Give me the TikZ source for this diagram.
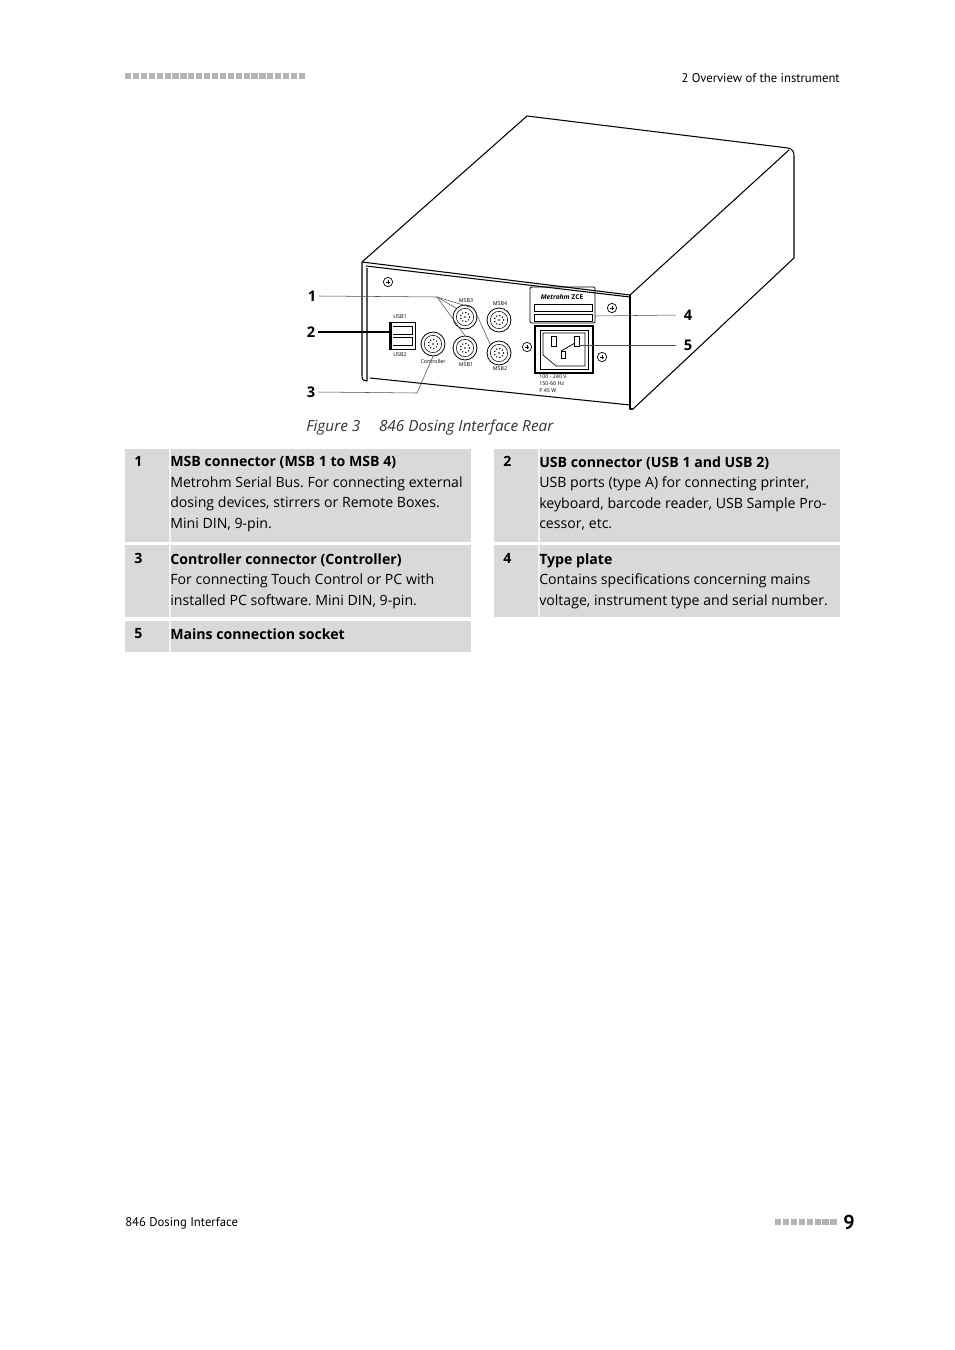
\documentclass[tikz,border=0pt]{standalone}
\usepackage{fontspec}
\setmainfont{Open Sans}
\newfontfamily\hdfont{PT Sans}
\definecolor{cellgray}{HTML}{D9D9D9}
\definecolor{sqgray}{HTML}{B4B4B4}
\begin{document}
\begin{tikzpicture}[x=0.75pt,y=-0.75pt,
  cell/.style={fill=cellgray,draw=none},
  num/.style={anchor=north west,font=\fontsize{10.6}{15.4}\selectfont\bfseries,inner sep=0pt},
  body/.style={anchor=north west,font=\fontsize{10.6}{15.4}\selectfont\frenchspacing,inner sep=0pt,align=left},
  conn/.style={circle,draw,line width=0.6pt,minimum size=18pt,inner sep=0pt,fill=white},
  screw/.style={circle,draw,line width=0.5pt,minimum size=7pt,inner sep=0pt},
  tiny/.style={font=\fontsize{4}{4.6}\selectfont,inner sep=0pt},
  lead/.style={draw,line width=0.4pt,black!70},
  callout/.style={font=\fontsize{11}{12}\selectfont\bfseries,inner sep=0pt}]
\useasboundingbox (0,0) rectangle (954,1350);
% header
\foreach \i in {0,...,22} \fill[sqgray] (125+\i*7.9,73) rectangle ++(6.2,6);
\node[anchor=east,font=\hdfont\fontsize{9.5}{11}\selectfont,inner sep=0pt] (hdr) at (840,78) {2 Overview of the instrument};
% footer
\foreach \i in {0,...,7} \fill[sqgray] (775+\i*7.9,1219) rectangle ++(6.2,6);
\node[anchor=west,font=\hdfont\fontsize{9.5}{11}\selectfont,inner sep=0pt] (ftr) at (125,1223) {846 Dosing Interface};
\node[anchor=west,font=\hdfont\fontsize{15}{16}\selectfont\bfseries,inner sep=0pt] (pg) at (843,1222) {9};
% ===== instrument =====
\begin{scope}[line width=0.8pt,line join=round]
\draw (362,262) -- (527,116) -- (788,148) .. controls (793,149) and (794,152) .. (794,156) -- (794,258) -- (633,409);
\draw (362,262) -- (630,295) -- (789,150);
\draw (362,262) -- (362,376) .. controls (362,380) and (364,381) .. (367,381) -- (367,268);
\draw (630,295) -- (630,409) -- (633,409);
\draw (370,378) -- (630,405);
\draw (366,266) -- (630,297);
\end{scope}
% screws
\foreach \n/\x/\y in {s1/388/282,s2/612/308,s3/527/347,s4/602/357}{
  \node[screw] (\n) at (\x,\y) {};
  \draw[line width=0.4pt] (\x-2,\y) -- (\x+2,\y) (\x,\y-2) -- (\x,\y+2);}
% USB
\draw[line width=0.7pt] (389,322) rectangle (415,349);
\fill (389,322) rectangle (392,349);
\draw[line width=0.5pt] (393,326) -- (412,326) -- (412,334) -- (393,334);
\draw[line width=0.5pt] (393,337) -- (412,337) -- (412,345) -- (393,345);
\node[tiny] (usb1t) at (400,317) {USB1};
\node[tiny] (usb2t) at (400,355) {USB2};
% connectors
\foreach \n/\x/\y in {msb3/465/317,msb4/499/320,msb1/465/348,msb2/499/353,ctrl/433/344}{
  \node[conn] (\n) at (\x,\y) {};
  \node[circle,draw,line width=0.4pt,minimum size=13pt,inner sep=0pt] at (\x,\y) {};
  \foreach \a in {0,40,...,320} \fill (\x,\y) ++(\a:4.5) circle (0.8);
  \fill (\x,\y) circle (0.8);}
\node[tiny] (msb3t) at (466,301) {MSB3};
\node[tiny] (msb4t) at (500,304) {MSB4};
\node[tiny] (msb1t) at (466,365) {MSB1};
\node[tiny] (msb2t) at (500,369) {MSB2};
\node[tiny] (ctrlt) at (433,361) {Controller};
% type plate
\draw[line width=0.7pt,rounded corners=1pt] (530,287) rectangle (595,323);
\draw[line width=0.5pt] (534,304) rectangle (592,311);
\draw[line width=0.5pt] (534,314) rectangle (592,321);
\node[font=\fontsize{5}{6}\selectfont\bfseries,inner sep=0pt] (logo) at (562,297) {\textit{Metrohm} ZCE};
% mains socket
\draw[line width=0.8pt] (535,326) rectangle (593,373);
\draw[line width=0.6pt] (540,330) -- (588,330) -- (588,369) -- (540,369) -- cycle;
\draw[line width=0.5pt] (543,333) -- (585,333) -- (585,366) -- (556,366) -- (543,355) -- cycle;
\draw[line width=0.6pt,fill=white] (551,336) rectangle (556,346);
\draw[line width=0.6pt,fill=white] (574,336) rectangle (579,346);
\draw[line width=0.6pt] (561,351) -- (575,343);
\draw[line width=0.6pt,fill=white] (561,351) rectangle (565,358);
\node[tiny,anchor=west] (v1) at (539,377) {100 - 240 V};
\node[tiny,anchor=west] (v2) at (539,384) {150-60 Hz};
\node[tiny,anchor=west] (v3) at (539,391) {P 45 W};
% callouts
\node[callout] (c1) at (312,296) {1};
\node[callout] (c2) at (311,332) {2};
\node[callout] (c3) at (311,392) {3};
\node[callout] (c4) at (688,315) {4};
\node[callout] (c5) at (688,345) {5};
\coordinate (j1) at (437,297);
\coordinate (j3) at (417,393);
\draw[lead] (c1.east) ++(3,0) -- (j1) -- (msb3.north west);
\draw[lead] (j1) -- (msb1.north);
\draw[lead] (j1) -- (msb3.north east) -- (msb2.north west);
\draw[line width=1.2pt] (c2.east) ++(3,0) -- (392,332);
\draw[lead] (c3.east) ++(3,0) -- (j3) -- (ctrl.south);
\draw[lead] (595,316) -- ([xshift=-6]c4.west);
\draw[lead] (579,345) -- ([xshift=-6]c5.west);
% caption
\node[anchor=west,font=\fontsize{11.5}{14}\selectfont\itshape,text=black!80,inner sep=0pt] (cap) at (306,427) {Figure 3\hspace{14pt}846 Dosing Interface Rear};
% ===== table =====
\fill[cell] (125,449) rectangle (471,542);
\fill[cell] (494,449) rectangle (840,542);
\fill[cell] (125,545) rectangle (471,617);
\fill[cell] (494,545) rectangle (840,617);
\fill[cell] (125,621) rectangle (471,652);
\foreach \x/\a/\b in {170/449/542,170/545/617,170/621/652,539/449/542,539/545/617}
  \draw[white!70!cellgray,line width=0.8pt] (\x,\a) -- (\x,\b);
\node[num] (n1) at (134,456) {1};
\node[body] (t1) at (170,456) {\textbf{MSB connector (MSB 1 to MSB 4)}\\Metrohm Serial Bus. For connecting external\\dosing devices, stirrers or Remote Boxes.\\Mini DIN, 9-pin.};
\node[num] (n2) at (503,456) {2};
\node[body] (t2) at (539,456) {\textbf{USB connector (USB 1 and USB 2)}\\USB ports (type A) for connecting printer,\\keyboard, barcode reader, USB Sample Pro-\\cessor, etc.};
\node[num] (n3) at (134,553) {3};
\node[body] (t3) at (170,553) {\textbf{Controller connector (Controller)}\\For connecting Touch Control or PC with\\installed PC software. Mini DIN, 9-pin.};
\node[num] (n4) at (503,553) {4};
\node[body] (t4) at (539,553) {\textbf{Type plate}\\Contains specifications concerning mains\\voltage, instrument type and serial number.};
\node[num] (n5) at (134,628) {5};
\node[body] (t5) at (170,628) {\textbf{Mains connection socket}};
\end{tikzpicture}
\end{document}
